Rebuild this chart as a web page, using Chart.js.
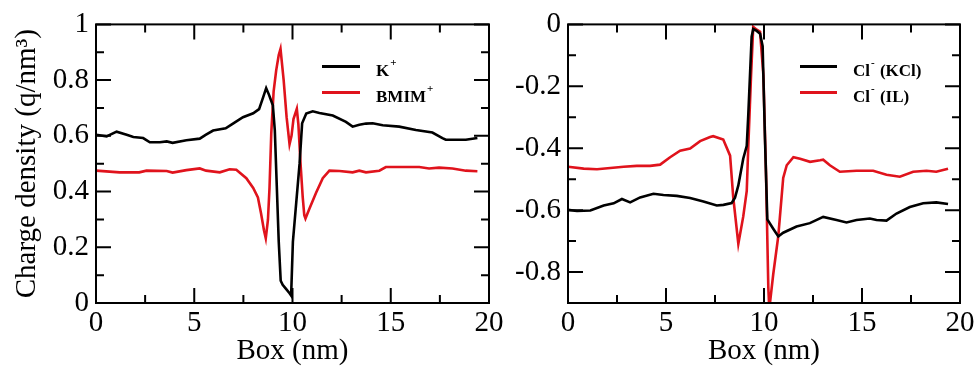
<!DOCTYPE html>
<html>
<head>
<meta charset="utf-8">
<script src="https://cdn.jsdelivr.net/npm/chart.js"></script>
<style>
  html, body { margin: 0; padding: 0; background: #fff; }
  #wrap { position: relative; width: 980px; height: 374px; overflow: hidden; }
  #c1 { position: absolute; left: 0; top: 0; z-index: 2; }
  #c2 { position: absolute; left: 490px; top: 0; z-index: 1; }
</style>
</head>
<body>
<div id="wrap">
  <canvas id="c1" width="520" height="374"></canvas>
  <canvas id="c2" width="490" height="374"></canvas>
</div>
<script>
// ---------- Data ----------
// Left panel: cations
const K_X = [0, 0.54, 1.05, 1.56, 1.9, 2.4, 2.74, 3.25, 3.6, 3.9, 4.6, 5.28, 5.6, 5.96, 6.6, 6.97, 7.48, 8.0, 8.3, 8.5, 8.66, 8.8, 8.92, 9.0, 9.1, 9.2, 9.3, 9.4, 9.5, 9.68, 9.85, 9.93, 10.02, 10.19, 10.36, 10.49, 10.7, 11.03, 11.37, 12.05, 12.72, 13.06, 13.4, 13.74, 14.08, 14.59, 15.43, 16.28, 17.12, 17.63, 17.8, 18.82, 19.41];
const K_Y = [0.604, 0.598, 0.615, 0.604, 0.596, 0.592, 0.577, 0.577, 0.58, 0.575, 0.584, 0.59, 0.604, 0.619, 0.627, 0.644, 0.667, 0.681, 0.696, 0.737, 0.771, 0.748, 0.725, 0.71, 0.62, 0.42, 0.22, 0.08, 0.065, 0.05, 0.035, 0.027, 0.22, 0.36, 0.5, 0.645, 0.68, 0.688, 0.682, 0.673, 0.65, 0.633, 0.64, 0.644, 0.645, 0.638, 0.633, 0.621, 0.612, 0.592, 0.586, 0.586, 0.592];

const BMIM_X = [0, 1.2, 2.2, 2.57, 3.6, 3.9, 4.6, 5.28, 5.6, 6.3, 6.8, 7.14, 7.65, 8.0, 8.24, 8.4, 8.55, 8.64, 8.75, 8.83, 8.92, 9.04, 9.17, 9.3, 9.39, 9.55, 9.7, 9.85, 9.95, 10.05, 10.22, 10.3, 10.41, 10.52, 10.6, 10.66, 10.86, 11.2, 11.54, 11.88, 12.39, 13.06, 13.4, 13.74, 14.42, 14.75, 15.43, 16.45, 16.95, 17.46, 18.14, 18.82, 19.41];
const BMIM_Y = [0.475, 0.469, 0.469, 0.475, 0.474, 0.468, 0.477, 0.483, 0.475, 0.469, 0.48, 0.478, 0.448, 0.413, 0.379, 0.321, 0.26, 0.232, 0.298, 0.413, 0.61, 0.76, 0.835, 0.89, 0.912, 0.8, 0.667, 0.57, 0.6, 0.66, 0.697, 0.64, 0.5, 0.38, 0.315, 0.303, 0.338, 0.396, 0.448, 0.475, 0.474, 0.469, 0.475, 0.469, 0.475, 0.488, 0.488, 0.488, 0.483, 0.486, 0.483, 0.475, 0.473];

// Right panel: anions
const CLK_X = [0, 0.46, 1.14, 1.82, 2.33, 2.75, 3.17, 3.68, 4.36, 4.87, 5.55, 6.23, 6.91, 7.59, 7.93, 8.35, 8.52, 8.69, 8.94, 9.12, 9.2, 9.37, 9.45, 9.63, 9.8, 9.93, 10.05, 10.17, 10.47, 10.73, 10.98, 11.66, 12.34, 13.02, 13.7, 14.21, 14.72, 15.4, 15.74, 16.25, 16.76, 17.44, 18.12, 18.79, 19.39];
const CLK_Y = [-0.599, -0.603, -0.601, -0.585, -0.578, -0.564, -0.575, -0.559, -0.547, -0.551, -0.554, -0.561, -0.572, -0.585, -0.583, -0.577, -0.56, -0.52, -0.434, -0.392, -0.29, -0.04, -0.015, -0.021, -0.03, -0.07, -0.37, -0.63, -0.66, -0.685, -0.673, -0.653, -0.642, -0.622, -0.632, -0.64, -0.632, -0.627, -0.632, -0.634, -0.611, -0.59, -0.578, -0.575, -0.58];

const CLIL_X = [0, 0.8, 1.48, 2.16, 2.84, 3.51, 4.19, 4.7, 5.21, 5.72, 6.23, 6.74, 7.25, 7.41, 7.92, 8.27, 8.43, 8.69, 8.94, 9.12, 9.2, 9.34, 9.45, 9.63, 9.8, 9.97, 10.1, 10.22, 10.27, 10.34, 10.47, 10.73, 10.98, 11.16, 11.5, 11.84, 12.35, 12.86, 13.02, 13.36, 13.87, 14.72, 15.57, 16.25, 16.93, 17.61, 18.29, 18.79, 19.39];
const CLIL_Y = [-0.46, -0.466, -0.468, -0.464, -0.46, -0.457, -0.457, -0.453, -0.429, -0.408, -0.401, -0.377, -0.364, -0.361, -0.372, -0.424, -0.558, -0.709, -0.621, -0.538, -0.392, -0.164, -0.008, -0.017, -0.024, -0.165, -0.475, -0.849, -0.92, -0.88, -0.808, -0.683, -0.496, -0.455, -0.429, -0.434, -0.444, -0.439, -0.437, -0.455, -0.476, -0.473, -0.473, -0.486, -0.492, -0.476, -0.473, -0.476, -0.466];

// Axis ticks
const X_TICKS = [0, 5, 10, 15, 20];
const X_MINOR = [2.5, 7.5, 12.5, 17.5];
const Y1_TICKS = [0, 0.2, 0.4, 0.6, 0.8, 1];
const Y1_MINOR = [0.1, 0.3, 0.5, 0.7, 0.9];
const Y2_TICKS = [-0.8, -0.6, -0.4, -0.2, 0];
const Y2_MINOR = [-0.7, -0.5, -0.3, -0.1];

const LABELS_LEFT = ['K⁺', 'BMIM⁺'];
const LABELS_RIGHT = ['Cl⁻ (KCl)', 'Cl⁻ (IL)'];

// ---------- Styling ----------
const BLACK = '#000000';
const RED = '#e0131c';
const SERIF = "'Liberation Serif', 'Times New Roman', serif";

const pts = (xs, ys) => xs.map((x, i) => ({x, y: ys[i]}));

// Frame + inward ticks on all four sides
const framePlugin = {
  id: 'frame',
  afterDatasetsDraw(chart, args, o) {
    const {ctx, chartArea: a, scales: {x, y}} = chart;
    ctx.save();
    ctx.strokeStyle = '#000';
    ctx.lineWidth = 2;
    ctx.beginPath();
    const xt = (vals, len) => vals.forEach(v => {
      const p = x.getPixelForValue(v);
      ctx.moveTo(p, a.bottom); ctx.lineTo(p, a.bottom - len);
      ctx.moveTo(p, a.top); ctx.lineTo(p, a.top + len);
    });
    const yt = (vals, len) => vals.forEach(v => {
      const p = y.getPixelForValue(v);
      ctx.moveTo(a.left, p); ctx.lineTo(a.left + len, p);
      ctx.moveTo(a.right, p); ctx.lineTo(a.right - len, p);
    });
    xt(o.xMajor, 15); xt(o.xMinor, 8);
    yt(o.yMajor, 15); yt(o.yMinor, 8);
    ctx.stroke();
    ctx.strokeRect(a.left, a.top, a.right - a.left, a.bottom - a.top);
    ctx.restore();
  }
};

// Legend inside plot area, with superscripts
const legendPlugin = {
  id: 'inlegend',
  afterDraw(chart, args, o) {
    const {ctx, chartArea: a} = chart;
    ctx.save();
    chart.data.datasets.forEach((ds, i) => {
      const ly = a.top + o.y0 + i * o.dy;
      ctx.strokeStyle = ds.borderColor;
      ctx.lineWidth = 3;
      ctx.beginPath();
      ctx.moveTo(a.left + o.x0, ly);
      ctx.lineTo(a.left + o.x1, ly);
      ctx.stroke();
      let tx = a.left + o.tx;
      const by = ly + 10;
      ctx.fillStyle = '#000';
      ctx.textBaseline = 'alphabetic';
      ctx.textAlign = 'left';
      for (const ch of ds.label) {
        if (ch === '⁺' || ch === '⁻') {
          ctx.font = 'bold 11px ' + SERIF;
          const s = ch === '⁺' ? '+' : '-';
          ctx.fillText(s, tx + 1, by - 10);
          tx += ctx.measureText(s).width + 2;
        } else {
          ctx.font = 'bold 17px ' + SERIF;
          ctx.fillText(ch, tx, by);
          tx += ctx.measureText(ch).width;
        }
      }
    });
    ctx.restore();
  }
};

function makeChart(id, datasets, yMin, yMax, yTicks, yMinor, yAxisWidth, padRight, yTitle, legendPos) {
  const fontTick = {family: SERIF, size: 29};
  return new Chart(document.getElementById(id), {
    type: 'line',
    data: {datasets},
    options: {
      responsive: false,
      animation: false,
      devicePixelRatio: 1,
      layout: {padding: {left: 0, top: 14, right: padRight, bottom: 0}},
      elements: {point: {radius: 0}, line: {tension: 0, borderWidth: 2.6}},
      plugins: {
        legend: {display: false},
        tooltip: {enabled: false},
        frame: {xMajor: X_TICKS, xMinor: X_MINOR, yMajor: yTicks, yMinor: yMinor},
        inlegend: legendPos
      },
      scales: {
        x: {
          type: 'linear', min: 0, max: 20,
          grid: {display: false, drawTicks: false},
          border: {display: false},
          ticks: {font: fontTick, color: '#000', padding: 3, maxRotation: 0, autoSkip: false,
                  callback: v => String(v)},
          afterBuildTicks: s => { s.ticks = X_TICKS.map(v => ({value: v})); },
          afterFit: s => { s.height = 71; },
          title: {display: true, text: 'Box (nm)', color: '#000', font: {family: SERIF, size: 29},
                  padding: {top: 0, bottom: 5}}
        },
        y: {
          type: 'linear', min: yMin, max: yMax,
          grid: {display: false, drawTicks: false},
          border: {display: false},
          ticks: {font: fontTick, color: '#000', padding: 7, autoSkip: false,
                  callback: v => String(v)},
          afterBuildTicks: s => { s.ticks = yTicks.map(v => ({value: v})); },
          afterFit: s => { s.width = yAxisWidth; },
          title: {display: !!yTitle, text: yTitle || '', color: '#000', font: {family: SERIF, size: 29},
                  padding: {top: 10, bottom: 0}}
        }
      }
    },
    plugins: [framePlugin, legendPlugin]
  });
}

makeChart('c1', [
  {label: LABELS_LEFT[0], data: pts(K_X, K_Y), borderColor: BLACK, backgroundColor: BLACK},
  {label: LABELS_LEFT[1], data: pts(BMIM_X, BMIM_Y), borderColor: RED, backgroundColor: RED}
], 0, 1, Y1_TICKS, Y1_MINOR, 96, 31, 'Charge density (q/nm³)',
  {x0: 226, x1: 264, tx: 280, y0: 42, dy: 26});

makeChart('c2', [
  {label: LABELS_RIGHT[0], data: pts(CLK_X, CLK_Y), borderColor: BLACK, backgroundColor: BLACK},
  {label: LABELS_RIGHT[1], data: pts(CLIL_X, CLIL_Y), borderColor: RED, backgroundColor: RED}
], -0.9, 0, Y2_TICKS, Y2_MINOR, 78, 20, '',
  {x0: 232, x1: 269, tx: 285, y0: 42, dy: 26});
</script>
</body>
</html>
